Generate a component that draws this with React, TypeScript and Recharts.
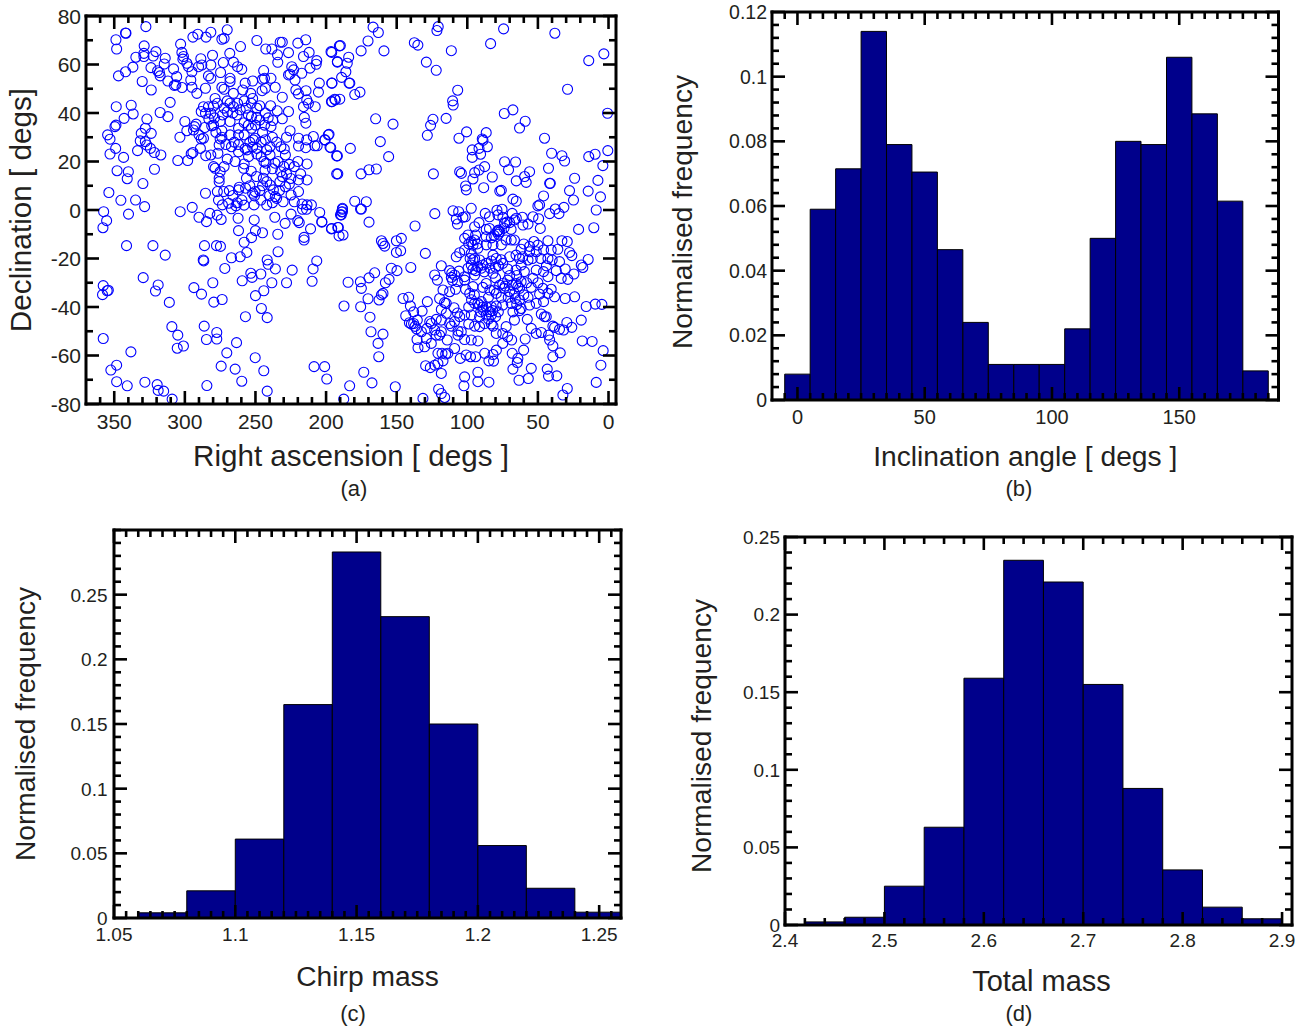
import { Bar, BarChart, Label, Scatter, ScatterChart, XAxis, YAxis } from 'recharts';

const FONT = '"Liberation Sans", Arial, sans-serif';
const INK = '#231f20';

// sky positions: [right ascension, declination]
const skyNorth: [number, number][] = [
  [327.6,75.6],[341.7,72.9],[342,73],[348.8,70.2],[348.3,66.4],[328.8,67.7],[334.7,63],[329,64.6],[329,63.3],[320.5,65.3],
  [313.9,62.6],[314.6,60.2],[322.4,63.5],[347,55.3],[342,57],[336.8,58.9],[330.2,53],[323.8,49.5],[324,58.7],[319.3,57.4],
  [318,56.7],[317.5,55.3],[312,53.2],[308,58.2],[305.8,55],[307.5,51.4],[306.4,51.6],[302,50.5],[294.3,71.3],[290.8,72.5],
  [285,71.3],[281.6,73.3],[270,74.3],[273.8,70.4],[272.2,70.8],[303,68.4],[302.1,65],[301,63.3],[301.4,62.2],[288.7,62.4],
  [280.4,63.8],[268.2,64.6],[260.6,67.4],[249,69.9],[242.7,66.4],[238.4,66.4],[232.5,69.2],[231,69.2],[220,68.8],[214.4,70.2],
  [234.4,64],[226.6,64.9],[234.2,60.9],[216,63.3],[212,65],[206.6,61.6],[207,60.1],[196.5,65.3],[192,61.2],[190.6,67.7],
  [298.6,60.5],[297.4,59.1],[295,57],[295.8,53.6],[295,50.6],[291.5,48.1],[290.3,59.1],[288,59.8],[281.6,59.8],[283.3,55.3],
  [281.6,54.3],[274.7,56.7],[272.8,60.8],[265.6,61],[262.7,59.1],[259.7,58],[268,54.3],[268,53],[257.3,52.3],[252,53.2],
  [244.2,57.5],[245,53.9],[243.6,54.3],[239,54.3],[236,50.6],[231,46.5],[226.6,55.7],[224.3,59.1],[223,57.8],[225.5,56],
  [222,53.6],[221.4,49.5],[217.2,56.4],[219.6,47.9],[214.2,49.2],[211.4,58.5],[204.8,52.3],[205.4,48.6],[195.8,52.3],[273.8,50.6],
  [272.2,49.8],[265.6,48.1],[259,49.5],[253.3,48.1],[252,46],[245.3,49.2],[243,50.2],[278.6,46],[285.4,50.2],[310.4,44.4],
  [317.5,40.2],[312,38.5],[348.6,42.6],[338,43.2],[336.6,39.6],[343,37.8],[326.9,37.5],[349.5,34.4],[348.8,35],[328,33.7],
  [330.9,31.6],[323.8,31.6],[354.7,31],[353,29.2],[349,25.4],[353,23.1],[343.4,21.7],[348,16.2],[340,15.8],[340.8,12.9],
  [329.7,10.9],[353.8,7.2],[345.3,4],[334.9,4.1],[328.5,1.4],[331.6,28.5],[328,28.2],[327,26.8],[324.4,25.4],[321.6,23.7],
  [317,22.7],[333.5,24.5],[321.5,16.8],[305,20.4],[298,20.4],[303.5,30],[300,36.5],[298.6,32.7],[293.9,33],[292,35.4],
  [293.2,34.4],[286.8,29.6],[288.4,29.3],[289,25.4],[294.3,23.7],[295.5,23.2],[285.2,22.4],[281.6,22.7],[276.6,23.4],[275.7,26.8],
  [279.7,17.9],[278.6,17.2],[272.2,17.9],[275,15.8],[275.7,13.1],[275.7,11.7],[285.4,6.9],[277,7.6],[272.5,7.6],[268.5,8],
  [276.2,4.1],[273.4,2.1],[269,2.8],[263,3],[263.8,1.7],[259.6,4.1],[261.5,9.4],[262,8.3],[252,6.9],[250.3,7.6],
  [250.7,5.8],[251,2.1],[246.2,4.1],[256.4,13.1],[249.3,13.8],[244.4,13.1],[242,11.7],[239.6,10.3],[237.3,8.3],[236,5.5],
  [235,4.8],[230.4,3.4],[232.7,11.7],[228.8,9.6],[232.2,15.8],[231,13.8],[226,10.7],[224.8,6.2],[219.5,7.6],[222.5,3.4],
  [217,2.5],[213.5,2.1],[216.7,0.3],[219.5,12.4],[213.5,12.4],[218,14.9],[213.5,19],[220,20],[222.5,17.9],[226,18.8],
  [192.5,14.9],[192.5,22.3],[197.2,25.9],[198.4,31],[200.7,28.9],[208,26.5],[206.3,26.5],[209,30.3],[213.7,28.9],[214.4,25.7],
  [219.5,26.4],[219.5,29.6],[225.5,32.7],[228,30],[214.3,35.8],[215.4,38.2],[226.6,40.6],[231,37.6],[234.6,40.9],[239.3,43],
  [207.7,42.6],[216,42.6],[213.7,45.4],[212.5,44],[195.8,44.7],[193.4,45.4],[286.8,42.6],[283.3,42.6],[279.7,42.9],[285.4,39.9],
  [281.6,39.9],[288.4,40.6],[272.2,42],[273.4,39.2],[265.6,42.6],[262.7,44],[260.8,41.3],[256.6,42],[255,39.2],[249,42],
  [263,39.2],[268,36.5],[275,36.5],[281,34.7],[279.7,35],[273.8,32.7],[262,33.7],[252.8,38.5],[249.2,38.2],[247,37.1],
  [243.6,35],[237.7,36.9],[239,34.4],[252.8,33.7],[250.3,29.6],[251.5,28.9],[262,31],[273.8,30],[275,29.3],[267,26.1],
  [257.3,25.4],[256,24.8],[249,25.4],[249,23.1],[242,24.8],[239.7,26.1],[239.7,22.7],[242.5,19.3],[243.2,16.5],[236.2,19.3],
  [232,26.1],[229.6,25.2],[228.8,22.7],[264.4,20],[258.4,17.2],[254.9,22],
  [166.7,75.4],[163,73.2],[170.3,69.7],[175.2,65.6],[159,65.6],[189.9,67.8],[196,65],[192,61],[184,63],[185,60.5],
  [186,57],[189,54.7],[196,52.3],[183.7,52.3],[183.2,52.3],[179.7,47.6],[176,48.6],[190.3,45.7],[193.9,45.7],[196.2,44.7],
  [137.5,69],[135,68],[129,61],[122,57.6],[121.5,74],[120.6,75.6],[111.3,65.7],[83.5,68.6],[74.3,74.7],[38,72.9],
  [3.3,64.4],[14,61.6],[29,49.8],[106.8,49.4],[110.4,45],[110,43.3],[0.7,39.9],[73.8,39.8],[67.7,41.3],[59,36.6],
  [63,33.8],[45.3,29.6],[115,37.8],[124.3,37.4],[126,34.9],[128.3,30.8],[164.9,37.6],[152.6,35.4],[161.6,28.2],[155.7,22],
  [182.8,25.4],[197.9,31.2],[201,28.9],[196.7,25.7],[192,22.3],[191.7,14.9],[175.2,14.9],[169.6,16.6],[164.4,16.9],[124,14.9],
  [179.7,3.6],[171.5,3.4],[175.6,0.4],[175,0.4],[188.4,0.3],[105.9,29.6],[100.5,32.2],[86.6,31.9],[89.4,29.3],[88.9,28.7],
  [85.8,26.1],[91.7,25.4],[96.5,24.8],[96.5,21.7],[90.6,23],[73.6,19.9],[65.8,19.8],[70.8,16.6],[87.7,17.9],[91.7,16.5],
  [94.8,15.4],[96,12.8],[105.4,15.8],[104.2,15.1],[82.3,13.6],[101.2,9.9],[100.7,8.3],[88.4,9.2],[77,7.8],[75.9,8.1],
  [65.3,12],[58.3,11.4],[59.4,13.8],[55.9,15.8],[42.5,17.2],[41.7,11],[41.2,11],[40.3,23.4],[33,22.4],[31.1,20.2],
  [14,22],[9.5,23],[0.5,24.5],[4,18.3],[24,13.1],[7.5,12.2],[14.4,7.8],[5.7,5.4],[27.6,8],[24.8,4.1],
  [46,5.8],[48.8,2.1],[50,1.7],[67.7,4.5],[65.3,3.6],[8.7,0],[31.6,1.1],[37.7,0.4],[97.2,0.7],[75.4,0.3],
];

// overlapping rings in the northern clump
const skyNorthClump: [number, number][] = [
  [277,44],[270,45],[268,44],[258,45],[253,44],[247,43],[243,40],[241,38],[283,37.5],[279,38],
  [270,40.5],[266,40],[258,36],[255,35],[250,35],[245,32],[258,31],[254,28],[246,28],[243,29],
  [238,30],[235,28],[268,31],[265,28],[271,27],[262,27],[252,26],[246,22],[244,20],[238,17],
  [234,20],[230,18],[228,15],[245,10],[247,8],[240,6],[254,10],[257,9],[266,6],[258,2],
  [267,0.5],[242,2],[238,3],[233,8],[225,13],[258,19],[262,24],[270,21],[286,34],[290,31],
  [278,32],[253,16],
];

const skySouth: [number, number][] = [
  [35.1,-1.5],[41.7,-1.5],[53.5,-2.8],[49.5,-3.6],[61,-3],[68.2,-1.4],[79,-0.1],[87.3,-1.4],[84.3,-2.8],[110.1,-0.3],
  [106.1,-0.7],[107.8,-3.7],[103.1,-3],[101.4,-2.8],[107,-5.8],[91.7,-5.2],[94.8,-6.9],[74.8,-3],[73.6,-5.5],[70,-5.2],
  [66.5,-4.1],[65.3,-3.4],[60.6,-6.2],[57,-5.8],[78.3,-2],[48.3,-7.6],[21.2,-8],[10.4,-7.3],[86.6,-8],[84.3,-7.6],
  [77.8,-8.3],[189,-0.8],[189.8,-2],[169.6,-5],[203,-5],[123,-1.5],[137,-6.6],[196,-7.6],[191.7,-7.2],
  [160.8,-12.7],[159.7,-13.8],[158.5,-14.9],[150.2,-12.7],[146.7,-11.7],[150.2,-17.5],[147.2,-16.8],[129.7,-17.9],[140,-23.7],[153.8,-24],
  [149.8,-25],[165.6,-25.9],[169.6,-28],[175.7,-29.6],[175,-32.3],[184.4,-29.8],[155.4,-28.6],[158,-30],[159.7,-34.4],[160.8,-35],
  [162.5,-37.1],[170.3,-36.6],[175.5,-39.9],[187.3,-39.6],[168.9,-44.2],[168.2,-50.2],[159.7,-51.2],[163.2,-55],[162.7,-60.5],[173.3,-66.9],
  [167.5,-71.3],[183.3,-72.5],[151,-72.9],[131.4,-77.7],[120.3,-73.9],[118.4,-75.7],[116,-77.3],[101.9,-68.8],[102.4,-72.5],[92.5,-66.9],
  [92.5,-70.8],[84.7,-71],[118.4,-67.4],[129.5,-64.2],[126.2,-65],[123.1,-64],[120.8,-63.3],[120.8,-59.1],[117.9,-59.1],[115.3,-59.4],
  [113.7,-59.1],[117.2,-62.2],[105,-61.2],[100.8,-59.8],[97.7,-60.5],[94.1,-60.5],[87.7,-59.1],[84.7,-62.2],[81.4,-62.3],[81.8,-59.6],
  [79.4,-57.8],[68.2,-59.1],[64.2,-61.2],[64.6,-62.9],[67.7,-65.6],[54.7,-65.3],[63.4,-70.2],[56.8,-69.5],[43.4,-65.6],[42.5,-68.5],
  [36.6,-68.4],[32.3,-76.3],[29.2,-73.6],[8.7,-71.1],[5.4,-64],[3.8,-58],[11.6,-54.2],[18.6,-54],[34.2,-58.9],[39.4,-60.5],
  [39.4,-56],[41.7,-53.6],[42.5,-51.6],[60.1,-57.8],[59,-53.2],[54.7,-48.8],[51.2,-50.9],[47.6,-50.5],[57.5,-45.1],[19.3,-45.4],
  [15.8,-39.8],[9.4,-38.8],[4.7,-38.9],[24,-35.8],[30.7,-36.5],[26,-48.4],[29.5,-46.4],[31.8,-49.5],[34.7,-49.2],[38.2,-48.4],
  [44.1,-44],[45.3,-44],[47.6,-42.9],[39.4,-47.9],[14.4,-20.4],[19.3,-22.7],[18.2,-23.7],[24.5,-26.4],[28.8,-28.6],[33.5,-28.2],
  [30.7,-24.3],[27.6,-17.5],[26,-18.8],[33,-12.7],[29.2,-13],[42.9,-12.7],[52.8,-13],[55.9,-15],[34.7,-21.3],[35.9,-16.2],
  [40.6,-16.5],[46,-16.5],[42.9,-20],[39.9,-20.6],[51.2,-17.2],[55.9,-17.2],[54,-20],[57,-20.6],[63,-20],[61.9,-16.2],
  [61.9,-22.7],[51.2,-24.8],[46,-25.4],[42.9,-27.5],[53.5,-28.2],[50,-30],[54.7,-31.9],[46.5,-32.3],[40.6,-32.7],[38.2,-35.8],
  [42.9,-34.4],[48.8,-34.7],[46,-37.8],[51.2,-38.5],[55.9,-39.2],[63,-32.3],[64.2,-31.6],[61.9,-29.6],[65.5,-30.3],[71.4,-28.9],
  [74.9,-30.3],[73.8,-32.3],[70,-33.7],[66.5,-34.4],[63,-37.1],[61.9,-40.6],[67.7,-42],[68.9,-38.5],[74.9,-39.2],[79.5,-39.6],
  [83,-39.9],[86.6,-39.9],[90.1,-37.8],[91.3,-39.2],[88.9,-41.3],[92.5,-38.5],[94.8,-38.5],[86.6,-43.3],[83,-43.3],[91.3,-44],
  [97.2,-43.3],[101.9,-43.3],[105.4,-44],[94.8,-47.9],[91.3,-48.1],[87.7,-46.8],[81.8,-47.9],[79.5,-50.9],[74.9,-50.9],[72.5,-48.1],
  [66.6,-45.4],[71.4,-52.3],[68.6,-53.6],[74.9,-55],[92.5,-54],[97.2,-53.6],[101.9,-53.4],[109,-57.1],[104.3,-50.2],[106.6,-51.6],
  [114.2,-53.6],[119.6,-51.6],[122,-51.6],[125.5,-55],[130.2,-56.4],[134.9,-56.8],[135.6,-53.4],[129,-53],[132.5,-50.2],[139.6,-47],
  [138,-46.8],[135.4,-45.4],[143.6,-43.6],[138,-42],[140.3,-39.6],[145.5,-36.5],[141.5,-36],[128.3,-37.8],[132,-41.7],[119.6,-36.5],
  [123.1,-26.8],[121.2,-28.9],[118.4,-23],[112.5,-25],[111.3,-27.8],[109,-26.8],[105.9,-25.2],[117.2,-33],[112.5,-33.7],[108.3,-32.7],
  [101.9,-28.9],[101.2,-32.7],[98.3,-34.4],[96,-31.6],[116.1,-38.2],[114.9,-38.5],[118.4,-41],[114.9,-42.6],[109.4,-40.3],[107,-42.5],
  [122,-45.1],[126.6,-46],[125.5,-46.8],[118.4,-45.4],[112.5,-46.8],[109,-46],[128.5,-48.8],[123.1,-49.5],[118.4,-50.2],[106.6,-49.9],
  [111.3,-47.9],[107.8,-19.3],[105.4,-17.6],[101.9,-16.5],[101.9,-11.7],[99.5,-10.3],[97.2,-13],[94.8,-12.4],[94.1,-10.3],[78.3,-8.5],
  [77,-9],[72.5,-12.4],[68.9,-12.4],[66.6,-12.4],[92.5,-15.8],[97.2,-17.9],[94.8,-20],[91.3,-20.6],[86.6,-14.4],[81.8,-14.4],
  [75.9,-14.4],[70,-19.3],[74.9,-22],[79.5,-20],[86.6,-22],[89,-22.7],[92.5,-23.4],[97.2,-22.7],[99.5,-24],[101.9,-27.5],
  [94.8,-26.8],[86.6,-30.3],[89,-31.9],[81.8,-26.1],[71.4,-24.3],[65.5,-24.8],[59.6,-25.4],[79.5,-34.4],[77.1,-31],[73.2,-31.4],
  [86.6,-11],[81.8,-18.6],[65.5,-18.6],[60.8,-19.3],
  [303.3,-0.7],[294.8,1.1],[290,-3],[284.7,-4.8],[282.3,-1.4],[277.1,-2.1],[274.3,-3.9],[262.3,-3.4],[262,-8.5],[250.9,-4.1],
  [250,-8.5],[245,-9.4],[252.8,-11.4],[258,-13.3],[256.1,-17.5],[260.8,-19.3],[267,-19.7],[271.7,-24.1],[286.1,-14.7],[277.6,-14.7],
  [274.8,-15],[287,-20.6],[286.6,-21],[341.3,-14.7],[322.6,-14.7],[313.9,-18.6],[236.3,-3],[229,-5.5],[224.8,-1.7],[220,-4.4],
  [219,-5.2],[213.9,0.3],[210.4,2.1],[204.5,-1],[203,-4.8],[211,-7.8],[234.2,-10],[215.6,-11.3],[215.6,-12.4],[196.2,-7.8],
  [191.3,-7.2],[190.8,-10.7],[188,-10.3],[189.2,-2],[188.4,-0.7],[188.4,0.7],[234,-17.2],[241.7,-20.6],[241,-22.4],[235.9,-24.3],
  [224,-24.8],[206.6,-21],[209.2,-24.3],[209.9,-29.4],[228,-30],[238.4,-30],[246.2,-26.4],[253.3,-26.1],[252.4,-27.8],[259.4,-29.2],
  [280.2,-30],[293.6,-32],[288.2,-34.7],[279.5,-38],[273.6,-36.9],[244.1,-33.3],[250,-35.3],[245.8,-40.6],[241.7,-44.4],[257.1,-44],
  [329.5,-27.9],[318.9,-30.9],[320.8,-33.4],[311,-38.1],[357.8,-31.2],[358.3,-34.9],[355,-33.3],[354.2,-33.1],[357.8,-53],[338.2,-58.5],
  [348.3,-64],[352.4,-66],[348.3,-70.8],[340.8,-72.5],[328.3,-71],[319.6,-72],[318.9,-74.4],[315,-74.7],[309,-78],[309.2,-48.1],
  [305,-51.6],[305.4,-57],[301,-56.1],[286.3,-47.9],[277.4,-50.5],[284.7,-53.4],[277.4,-53.2],[263.4,-54.7],[270.3,-58.9],[250.2,-60.9],
  [274.3,-64.4],[264.4,-65.6],[244.1,-66.3],[259.7,-70.6],[284.4,-72.4],[241.7,-74.7],[208.5,-64.6],[201,-64.6],[199.5,-69.7],[187.5,-78],
  [357.5,-0.7],[355.4,-4.4],[358,-7.3],[339.9,-1.7],
];

// overlapping rings in the southern cluster
const skyCluster: [number, number][] = [
  [80,-28],[70,-27],[68,-31],[81,-33],[76,-36],[71,-36],[95,-35],[85,-36],[84,-33],[99,-40],
  [97,-37],[83,-47],[99,-47],[89,-40],[90.5,-42],[84,-42],[85,-45],[82,-41.5],[80,-44],[78,-42],
  [60,-14],[50,-14.5],[48,-20],[44,-23],[37,-25],[96,-20.5],[96,-24.5],[94,-25],[98,-20],[90,-24],
  [88,-25.5],[96,-14.5],[99,-14],[93,-14],[78,-23],[80,-23.5],[76,-20.5],[83,-21],[84,-24],[65,-27],
  [66,-36.5],[65,-39],[63,-41.5],[60,-35],[58,-30],[57,-36],[111,-26],[110.5,-29],[107,-29.5],[137,-48],
  [141,-46.5],[136,-49],[78,-10],[79,-9],[81,-10.5],[83,-11.5],[72,-5],[69,-8],[74,-7.5],
];

const inclinationBins = [0, 10, 20, 30, 40, 50, 60, 70, 80, 90, 100, 110, 120, 130, 140, 150, 160, 170, 180];
const inclinationFreq = [0.008, 0.059, 0.0715, 0.114, 0.079, 0.0705, 0.0465, 0.024, 0.011, 0.011, 0.011, 0.022, 0.05, 0.08, 0.079, 0.106, 0.0885, 0.0615, 0.009];

const chirpBins = [1.07, 1.09, 1.11, 1.13, 1.15, 1.17, 1.19, 1.21, 1.23, 1.25];
const chirpFreq = [0.004, 0.021, 0.061, 0.165, 0.283, 0.233, 0.15, 0.056, 0.023, 0.0045];

const totalBins = [2.44, 2.48, 2.52, 2.56, 2.6, 2.64, 2.68, 2.72, 2.76, 2.8, 2.84, 2.88];
const totalFreq = [0.002, 0.005, 0.025, 0.063, 0.159, 0.235, 0.221, 0.155, 0.088, 0.0355, 0.0115, 0.004];

const raTicks = [350, 300, 250, 200, 150, 100, 50, 0];
const decTicks = [-80, -60, -40, -20, 0, 20, 40, 60, 80];
const inclinationTicks = [0, 50, 100, 150];
const inclinationFreqTicks = [0, 0.02, 0.04, 0.06, 0.08, 0.1, 0.12];
const chirpTicks = [1.05, 1.1, 1.15, 1.2, 1.25];
const chirpFreqTicks = [0, 0.05, 0.1, 0.15, 0.2, 0.25];
const totalTicks = [2.4, 2.5, 2.6, 2.7, 2.8, 2.9];
const totalFreqTicks = [0, 0.05, 0.1, 0.15, 0.2, 0.25];

// every minor step between lo and hi, majors included
function withMinors(lo: number, hi: number, step: number) {
  const out: number[] = [];
  const n = Math.round((hi - lo) / step);
  for (let i = 0; i <= n; i++) out.push(Number((lo + i * step).toFixed(4)));
  return out;
}

type Side = 'bottom' | 'left' | 'top' | 'right';

function FrameTick({ x, y, payload, side, majors, fontSize, labelDrop = 24, labelGap = 5, majorLen = 13, minorLen = 7 }: any) {
  const major = majors.some((m: number) => Math.abs(m - payload.value) < 1e-6);
  const len = major ? majorLen : minorLen;
  const ends: Record<Side, [number, number]> = {
    bottom: [x, y - len],
    top: [x, y + len],
    left: [x + len, y],
    right: [x - len, y],
  };
  const [x2, y2] = ends[side as Side];
  return (
    <g>
      <line x1={x} y1={y} x2={x2} y2={y2} stroke="#000" strokeWidth={2.6} />
      {major && side === 'bottom' && (
        <text x={x} y={y + labelDrop} textAnchor="middle" fontSize={fontSize} fontFamily={FONT} fill={INK}>
          {payload.value}
        </text>
      )}
      {major && side === 'left' && (
        <text x={x - labelGap} y={y + fontSize * 0.36} textAnchor="end" fontSize={fontSize} fontFamily={FONT} fill={INK}>
          {payload.value}
        </text>
      )}
    </g>
  );
}

const PAD = { left: 110, top: 10, right: 24, bottom: 90 };
const SKY_PAD_LEFT = 84;
const frameLine = { stroke: '#000', strokeWidth: 3, strokeLinecap: 'square' as const };

interface AxisSpec {
  domain: [number, number];
  ticks: number[];
  majors: number[];
  fontSize: number;
  reversed?: boolean;
  title: string;
  titleSize: number;
  labelDrop?: number;
  labelGap?: number;
}

interface TitlePlace {
  xOffset: number;
  xDx?: number;
  yLeft: number;
  yDy?: number;
}

// the four frame axes shared by every panel, top and right carry ticks only
function frameAxes(xs: AxisSpec, ys: AxisSpec, place: TitlePlace, xKey: string, yKey: string, padLeft = PAD.left) {
  const shared = {
    type: 'number' as const,
    interval: 0 as const,
    allowDataOverflow: true,
    tickLine: false,
    tickSize: 0,
    tickMargin: 0,
    axisLine: frameLine,
  };
  const xTick = (side: Side) => (p: any) => (
    <FrameTick {...p} side={side} majors={xs.majors} fontSize={xs.fontSize} labelDrop={xs.labelDrop} />
  );
  const yTick = (side: Side) => (p: any) => (
    <FrameTick {...p} side={side} majors={ys.majors} fontSize={ys.fontSize} labelGap={ys.labelGap} />
  );
  return [
    <XAxis
      key="xb"
      {...shared}
      domain={xs.domain}
      ticks={xs.ticks}
      reversed={xs.reversed}
      dataKey={xKey}
      height={PAD.bottom}
      tick={xTick('bottom')}
    >
      <Label
        value={xs.title}
        position="insideBottom"
        offset={place.xOffset}
        dx={place.xDx ?? 0}
        fontSize={xs.titleSize}
        fontFamily={FONT}
        fill={INK}
      />
    </XAxis>,
    <XAxis
      key="xt"
      {...shared}
      domain={xs.domain}
      ticks={xs.ticks}
      reversed={xs.reversed}
      dataKey={xKey}
      xAxisId="top"
      orientation="top"
      height={1}
      tick={xTick('top')}
    />,
    <YAxis key="yl" {...shared} domain={ys.domain} ticks={ys.ticks} dataKey={yKey} width={padLeft} tick={yTick('left')}>
      <Label
        value={ys.title}
        angle={-90}
        position="insideLeft"
        offset={place.yLeft}
        dy={place.yDy ?? 0}
        fontSize={ys.titleSize}
        fontFamily={FONT}
        fill={INK}
        style={{ textAnchor: 'middle' }}
      />
    </YAxis>,
    <YAxis
      key="yr"
      {...shared}
      domain={ys.domain}
      ticks={ys.ticks}
      dataKey={yKey}
      yAxisId="right"
      orientation="right"
      width={1}
      tick={yTick('right')}
    />,
  ];
}

function Caption({ x, y, text }: { x: number; y: number; text: string }) {
  return (
    <div
      style={{
        position: 'absolute',
        left: x - 30,
        top: y - 13,
        width: 60,
        height: 26,
        lineHeight: '26px',
        textAlign: 'center',
        fontFamily: FONT,
        fontSize: 22,
        color: INK,
      }}
    >
      {text}
    </div>
  );
}

interface PlotBox {
  left: number;
  right: number;
  top: number;
  bottom: number;
}

interface HistProps {
  plot: PlotBox;
  bins: number[];
  freq: number[];
  binWidth: number;
  xAxis: AxisSpec;
  yAxis: AxisSpec;
  place: TitlePlace;
}

function chartBox(plot: PlotBox, padLeft = PAD.left) {
  return {
    width: plot.right - plot.left + padLeft + PAD.right,
    height: plot.bottom - plot.top + PAD.top + PAD.bottom,
    margin: { left: 0, top: PAD.top - 1, right: PAD.right - 1, bottom: 0 },
  };
}

function Histogram({ plot, bins, freq, binWidth, xAxis, yAxis, place }: HistProps) {
  const data = bins.map((bin, i) => ({ bin, freq: freq[i] }));
  // recharts shrinks a bar to 90% once it reaches the band, so stay just under it
  const barSize = (binWidth / (xAxis.domain[1] - xAxis.domain[0])) * (plot.right - plot.left) - 0.05;
  return (
    <div style={{ position: 'absolute', left: plot.left - PAD.left, top: plot.top - PAD.top }}>
      <BarChart {...chartBox(plot)} data={data} barCategoryGap={0} barGap={0}>
        <Bar dataKey="freq" barSize={barSize} fill="#00008b" stroke="#000" strokeWidth={1} isAnimationActive={false} />
        {frameAxes(xAxis, yAxis, place, 'bin', 'freq')}
      </BarChart>
    </div>
  );
}

const skyPoints = [...skyNorth, ...skyNorthClump, ...skySouth, ...skyCluster].map(([ra, dec]) => ({ ra, dec }));

function SkyMap() {
  const plot = { left: 86, right: 616, top: 16, bottom: 404 };
  const xAxis: AxisSpec = {
    domain: [-5.3, 370],
    ticks: withMinors(0, 360, 10),
    majors: raTicks,
    fontSize: 21,
    reversed: true,
    title: 'Right ascension [ degs ]',
    titleSize: 29.6,
    labelDrop: 25,
  };
  const yAxis: AxisSpec = {
    domain: [-80, 80],
    ticks: withMinors(-80, 80, 10),
    majors: decTicks,
    fontSize: 21,
    title: 'Declination [ degs]',
    titleSize: 29.7,
  };
  const box = chartBox(plot, SKY_PAD_LEFT);
  const layer = { position: 'absolute' as const, left: plot.left - SKY_PAD_LEFT, top: plot.top - PAD.top };
  return (
    <>
      <div style={layer}>
        <ScatterChart {...box} margin={{ left: 0, top: PAD.top, right: PAD.right, bottom: 0 }}>
          <Scatter
            data={skyPoints}
            isAnimationActive={false}
            shape={(p: any) => <circle cx={p.cx} cy={p.cy} r={5} fill="none" stroke="#0000ff" strokeWidth={1.1} />}
          />
          <XAxis
            type="number"
            dataKey="ra"
            domain={xAxis.domain}
            reversed
            allowDataOverflow
            height={PAD.bottom}
            tick={false}
            tickLine={false}
            axisLine={false}
          />
          <YAxis
            type="number"
            dataKey="dec"
            domain={yAxis.domain}
            allowDataOverflow
            width={SKY_PAD_LEFT}
            tick={false}
            tickLine={false}
            axisLine={false}
          />
        </ScatterChart>
      </div>
      {/* frame, ticks and labels sit on their own layer above the rings */}
      <div style={layer}>
        <ScatterChart {...box}>
          <Scatter data={skyPoints.slice(0, 2)} isAnimationActive={false} shape={() => <g />} />
          <Scatter data={skyPoints.slice(0, 2)} xAxisId="top" yAxisId="right" isAnimationActive={false} shape={() => <g />} />
          {frameAxes(xAxis, yAxis, { xOffset: 28, yLeft: 18 }, 'ra', 'dec', SKY_PAD_LEFT)}
        </ScatterChart>
      </div>
    </>
  );
}

export default function App() {
  return (
    <div style={{ position: 'absolute', left: 0, top: 0, width: 1307, height: 1027, background: '#fff', overflow: 'hidden' }}>
      <SkyMap />
      <Caption x={354} y={489} text="(a)" />
      <Histogram
        plot={{ left: 771.5, right: 1278, top: 12, bottom: 400 }}
        bins={inclinationBins}
        freq={inclinationFreq}
        binWidth={10}
        xAxis={{
          domain: [-10, 189],
          ticks: withMinors(-5, 185, 5),
          majors: inclinationTicks,
          fontSize: 20,
          title: 'Inclination angle [ degs ]',
          titleSize: 28.2,
          labelDrop: 24,
        }}
        yAxis={{
          domain: [0, 0.12],
          ticks: withMinors(0, 0.12, 0.004),
          majors: inclinationFreqTicks,
          fontSize: 19.5,
          title: 'Normalised frequency',
          titleSize: 28.2,
        }}
        place={{ xOffset: 24, yLeft: 20, yDy: 6 }}
      />
      <Caption x={1019} y={489} text="(b)" />
      <Histogram
        plot={{ left: 114, right: 621, top: 530, bottom: 918 }}
        bins={chirpBins}
        freq={chirpFreq}
        binWidth={0.02}
        xAxis={{
          domain: [1.05, 1.259],
          ticks: withMinors(1.05, 1.255, 0.005),
          majors: chirpTicks,
          fontSize: 19,
          title: 'Chirp mass',
          titleSize: 28.2,
          labelDrop: 23,
        }}
        yAxis={{
          domain: [0, 0.3],
          ticks: withMinors(0, 0.3, 0.01),
          majors: chirpFreqTicks,
          fontSize: 19,
          title: 'Normalised frequency',
          titleSize: 28.2,
          labelGap: 6.5,
        }}
        place={{ xOffset: 22, yLeft: 21 }}
      />
      <Caption x={353} y={1014} text="(c)" />
      <Histogram
        plot={{ left: 785, right: 1292, top: 537, bottom: 925 }}
        bins={totalBins}
        freq={totalFreq}
        binWidth={0.04}
        xAxis={{
          domain: [2.4, 2.91],
          ticks: withMinors(2.4, 2.9, 0.02),
          majors: totalTicks,
          fontSize: 19,
          title: 'Total mass',
          titleSize: 29,
          labelDrop: 22,
        }}
        yAxis={{
          domain: [0, 0.25],
          ticks: withMinors(0, 0.25, 0.01),
          majors: totalFreqTicks,
          fontSize: 19,
          title: 'Normalised frequency',
          titleSize: 28.2,
        }}
        place={{ xOffset: 24, xDx: 3, yLeft: 26, yDy: 5 }}
      />
      <Caption x={1019} y={1014} text="(d)" />
    </div>
  );
}
